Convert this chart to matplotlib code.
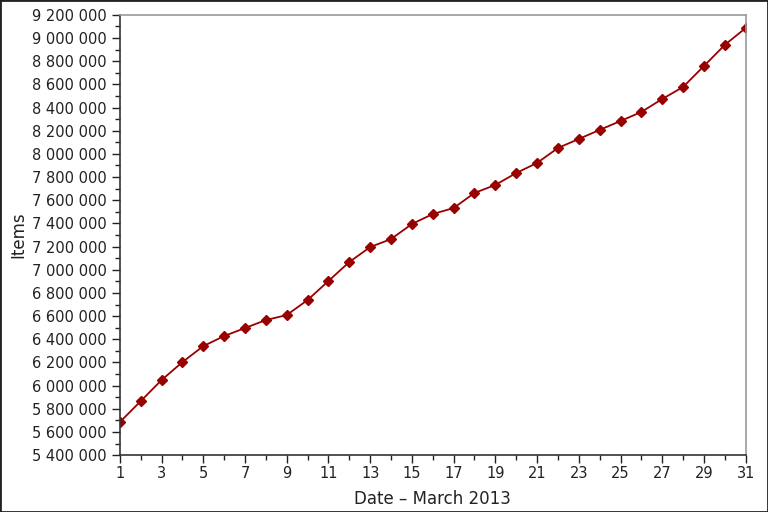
import matplotlib
matplotlib.use("Agg")
import matplotlib.pyplot as plt
from matplotlib.ticker import MultipleLocator, FuncFormatter

# Data: items per day, March 2013
days = list(range(1, 32))
items = [5685000, 5866000, 6048000, 6203000, 6341000, 6428000, 6497000, 6566000,
         6609000, 6739000, 6903000, 7067000, 7196000, 7265000, 7395000, 7481000,
         7533000, 7663000, 7732000, 7835000, 7922000, 8051000, 8129000, 8207000,
         8284000, 8362000, 8474000, 8578000, 8759000, 8941000, 9087000]
x_ticks = list(range(1, 32, 2))

fig = plt.figure(figsize=(7.68, 5.12), dpi=100)
ax = fig.add_axes([0.156, 0.111, 0.815, 0.86])

ax.plot(days, items, color="#990000", linewidth=1.3, marker="D", markersize=5,
        markerfacecolor="#990000", markeredgecolor="#990000")

ax.set_xlim(1, 31)
ax.set_ylim(5400000, 9200000)
ax.set_xticks(x_ticks)
ax.set_xticks(days, minor=True)
ax.yaxis.set_major_locator(MultipleLocator(200000))
ax.yaxis.set_minor_locator(MultipleLocator(100000))
ax.yaxis.set_major_formatter(FuncFormatter(lambda v, p: f"{int(v):,}".replace(",", " ")))

ax.tick_params(which="both", direction="out", colors="#222222", labelsize=10.5)
ax.tick_params(which="major", length=6, width=1)
ax.tick_params(which="minor", length=3.5, width=1)
ax.tick_params(axis="x", pad=2)

for side in ("left", "bottom"):
    ax.spines[side].set_color("#333333")
    ax.spines[side].set_linewidth(1.2)
for side in ("top", "right"):
    ax.spines[side].set_color("#999999")
    ax.spines[side].set_linewidth(1.2)

ax.set_xlabel("Date – March 2013", fontsize=12, color="#222222", labelpad=6)
ax.set_ylabel("Items", fontsize=12, color="#222222", labelpad=3)

# outer frame around the figure
fig.patches.append(plt.Rectangle((0, 0), 1, 1, transform=fig.transFigure,
                                 fill=False, edgecolor="#222222", linewidth=2))

fig.savefig("out.png", dpi=100)
